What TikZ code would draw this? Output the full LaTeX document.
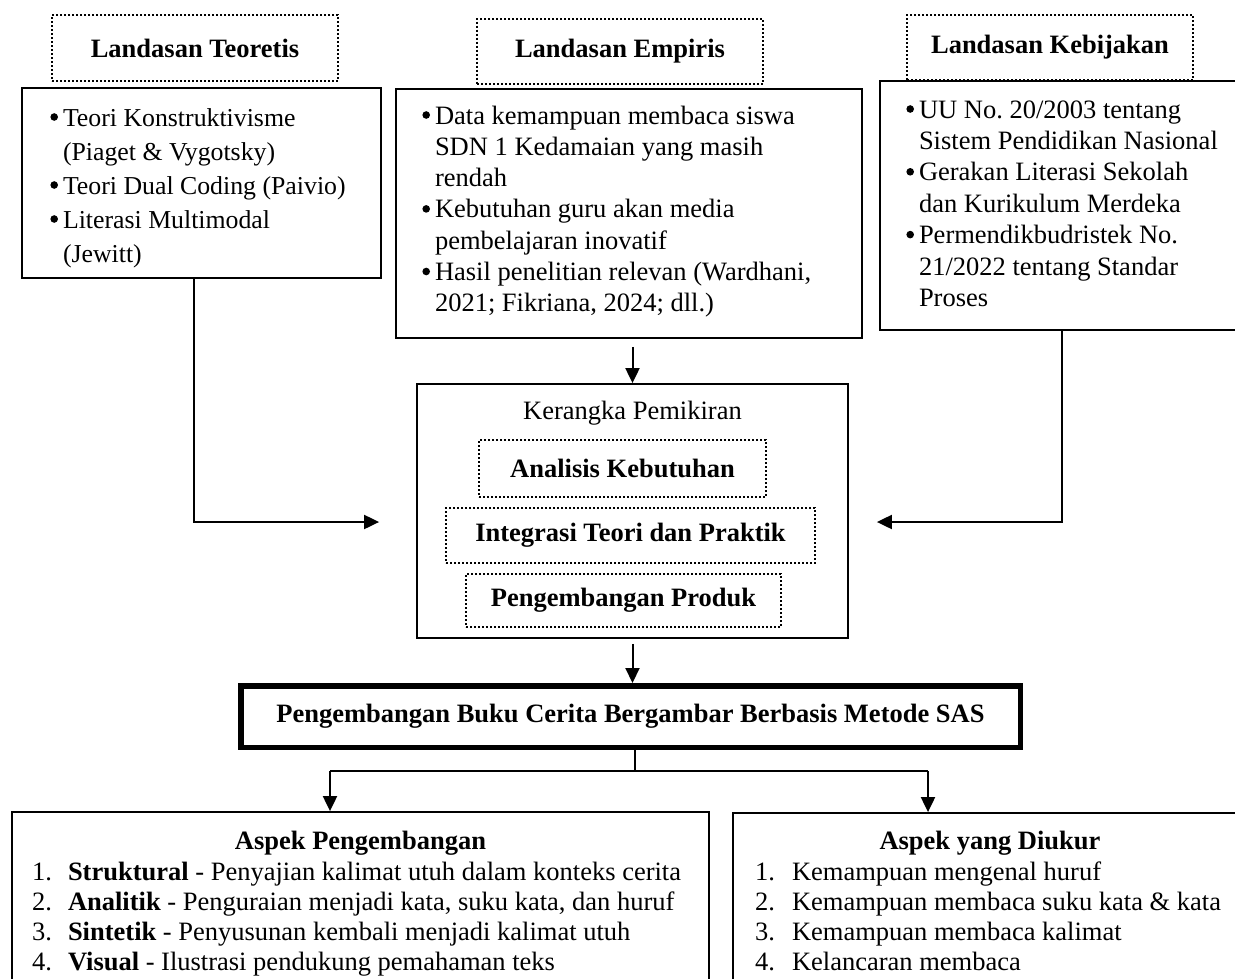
\documentclass[tikz,border=0pt]{standalone}
\usepackage{fontspec}
\setmainfont{Liberation Serif}
\usetikzlibrary{arrows.meta}
\frenchspacing
\newcommand{\bl}{\leavevmode\llap{\tikz[baseline=0pt]\fill (0pt,9pt) circle (3.8pt);\hspace{5pt}}}
\newcommand{\nb}[1]{\makebox[36pt][l]{#1}}
\tikzset{
  box/.style={draw, line width=1.8pt, inner sep=0pt},
  dotbox/.style={draw, line width=2pt, dash pattern=on 2pt off 2pt, inner sep=0pt,
    font=\fontsize{26.5}{30}\selectfont\bfseries},
  lbl/.style={inner sep=0pt, font=\fontsize{26.5}{30}\selectfont\bfseries},
  txt/.style={anchor=base west, inner sep=0pt, outer sep=0pt},
  arr/.style={line width=2pt, -{Triangle[length=15pt,width=14pt]}},
  thinln/.style={line width=1.2pt},
}
\begin{document}
\begin{tikzpicture}[x=1pt,y=-1pt]
\useasboundingbox (0,0) rectangle (1235,978);

% top headings
\node[dotbox, minimum width=286pt, minimum height=66pt] (teolab) at (195,48) {Landasan Teoretis};
\node[dotbox, minimum width=286pt, minimum height=65pt] (emplab) at (620,51) {Landasan Empiris};
\node[dotbox, minimum width=286pt, minimum height=65pt] (keblab) at (1050,47.5) {Landasan Kebijakan};

% top boxes
\node[box, minimum width=359pt, minimum height=190pt] (teo) at (201.5,183) {};
\node[box, minimum width=466pt, minimum height=249pt] (emp) at (629,213.5) {};
\node[box, minimum width=365pt, minimum height=249pt] (keb) at (1062.5,205.5) {};

\node[txt, font=\fontsize{25.8}{34}\selectfont] (teotext) at (63,126)
  {\begin{minipage}[t]{400pt}\raggedright
   \bl Teori Konstruktivisme\\(Piaget \& Vygotsky)\\\bl Teori Dual Coding (Paivio)\\\bl Literasi Multimodal\\(Jewitt)\end{minipage}};
\node[txt, font=\fontsize{26.5}{31.3}\selectfont] (emptext) at (435,124)
  {\begin{minipage}[t]{500pt}\raggedright
   \bl Data kemampuan membaca siswa\\SDN 1 Kedamaian yang masih\\rendah\\\bl Kebutuhan guru akan media\\pembelajaran inovatif\\\bl Hasil penelitian relevan (Wardhani,\\2021; Fikriana, 2024; dll.)\end{minipage}};
\node[txt, font=\fontsize{26.5}{31.4}\selectfont] (kebtext) at (919,118)
  {\begin{minipage}[t]{400pt}\raggedright
   \bl UU No. 20/2003 tentang\\Sistem Pendidikan Nasional\\\bl Gerakan Literasi Sekolah\\dan Kurikulum Merdeka\\\bl Permendikbudristek No.\\21/2022 tentang Standar\\Proses\end{minipage}};

% Kerangka
\node[box, minimum width=431pt, minimum height=254pt] (ker) at (632.5,511) {};
\node[anchor=base, inner sep=0pt, font=\fontsize{26.5}{30}\selectfont] (kerlab) at (632.5,419) {Kerangka Pemikiran};
\node[dotbox, minimum width=287pt, minimum height=57pt] (ana) at (622.5,468.5) {Analisis Kebutuhan};
\node[dotbox, minimum width=369pt, minimum height=55pt] (int) at (630.5,535.5) {Integrasi Teori dan Praktik};
\node[dotbox, minimum width=315pt, minimum height=53pt] (pro) at (623.5,600.5) {Pengembangan Produk};

% SAS box
\node[draw, line width=5.5pt, inner sep=0pt, minimum width=779.5pt, minimum height=61.5pt,
  font=\fontsize{26.5}{30}\selectfont\bfseries] (sas) at (630.5,716.5)
  {Pengembangan Buku Cerita Bergambar Berbasis Metode SAS};

% bottom boxes
\node[box, minimum width=697pt, minimum height=188pt] (dev) at (360.5,906) {};
\node[box, minimum width=512pt, minimum height=187pt] (ukur) at (989,906.5) {};

\node[lbl, anchor=base] (devlab) at (360.5,849) {Aspek Pengembangan};
\node[lbl, anchor=base] (ukurlab) at (990,849) {Aspek yang Diukur};

\node[txt, font=\fontsize{26.5}{30}\selectfont] (devtext) at (32,880)
  {\begin{minipage}[t]{700pt}\raggedright
   \nb{1.}\textbf{Struktural} - Penyajian kalimat utuh dalam konteks cerita\\\nb{2.}\textbf{Analitik} - Penguraian menjadi kata, suku kata, dan huruf\\\nb{3.}\textbf{Sintetik} - Penyusunan kembali menjadi kalimat utuh\\\nb{4.}\textbf{Visual} - Ilustrasi pendukung pemahaman teks\end{minipage}};
\node[txt, font=\fontsize{26.5}{30}\selectfont] (ukurtext) at (755,880)
  {\begin{minipage}[t]{500pt}\raggedright
   \makebox[37pt][l]{1.}Kemampuan mengenal huruf\\\makebox[37pt][l]{2.}Kemampuan membaca suku kata \& kata\\\makebox[37pt][l]{3.}Kemampuan membaca kalimat\\\makebox[37pt][l]{4.}Kelancaran membaca\end{minipage}};

% connectors
\coordinate (tl) at (194,522);
\coordinate (tr) at (1062,522);
\draw[arr, shorten >=37pt] (tl |- teo.south) -- (tl) -- (tl -| ker.west);
\draw[arr, shorten >=28pt] (tr |- keb.south) -- (tr) -- (tr -| ker.east);
\draw[arr, shorten <=8pt] (ker.north |- emp.south) -- (ker.north);
\draw[arr, shorten <=5pt] (ker.south) -- (ker.south |- sas.north);

\coordinate (sp) at (635,771);
\coordinate (sl) at (330,771);
\coordinate (sr) at (928,771);
\draw[line width=2pt] (sp |- sas.south) -- (sp);
\draw[thinln] (sl) -- (sr);
\draw[arr] (sl) -- (sl |- dev.north);
\draw[arr] (sr) -- (sr |- ukur.north);
\end{tikzpicture}
\end{document}
